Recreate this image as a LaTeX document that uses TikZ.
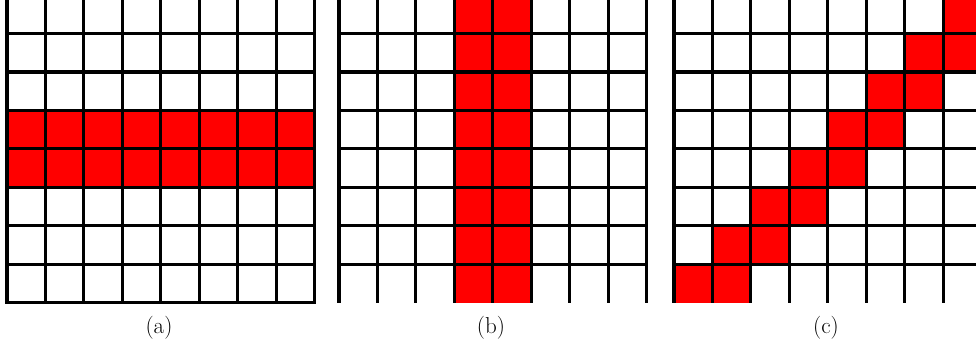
\documentclass[tikz,border=0pt]{standalone}
\begin{document}
\begin{tikzpicture}[x=1pt,y=-1pt,
  gridline/.style={line width=3.1pt,black},
  redcell/.style={fill=red},
  sublabel/.style={anchor=base,inner sep=0pt,font=\fontsize{23}{27}\selectfont}]
\useasboundingbox (0,0) rectangle (976,345);
\clip (0,0) rectangle (976,345);
\def\s{38.45}
% ---------- (a) ----------
\fill[redcell] (7,{33.5+2*\s}) rectangle ({7+8*\s},{33.5+4*\s});
\foreach \i in {1,...,7} \draw[gridline] ({7+\i*\s},-5) -- ({7+\i*\s},302.65);
\foreach \k in {0,...,6} \draw[gridline] (7,{33.5+\k*\s}) -- ({7+8*\s},{33.5+\k*\s});
\draw[gridline] (7,-40) rectangle ({7+8*\s},302.65);
\node[sublabel] (la) at (159,333) {(a)};
% ---------- (b) ----------
\fill[redcell] ({339+3*\s},-5) rectangle ({339+5*\s},302.65);
\foreach \i in {0,...,8} \draw[gridline] ({339+\i*\s},-5) -- ({339+\i*\s},302.65);
\foreach \k in {0,...,6} \draw[gridline] (339,{33.5+\k*\s}) -- ({339+8*\s},{33.5+\k*\s});
\node[sublabel] (lb) at (491,333) {(b)};
% ---------- (c) ----------
\foreach \r in {1,...,8}
  \fill[redcell] ({674+(8-\r)*\s},{33.5+(\r-2)*\s}) rectangle ++({2*\s},\s);
\foreach \i in {0,...,8} \draw[gridline] ({674+\i*\s},-5) -- ({674+\i*\s},302.65);
\foreach \k in {0,...,6} \draw[gridline] (674,{33.5+\k*\s}) -- ({674+8*\s},{33.5+\k*\s});
\node[sublabel] (lc) at (826,333) {(c)};
\end{tikzpicture}
\end{document}
